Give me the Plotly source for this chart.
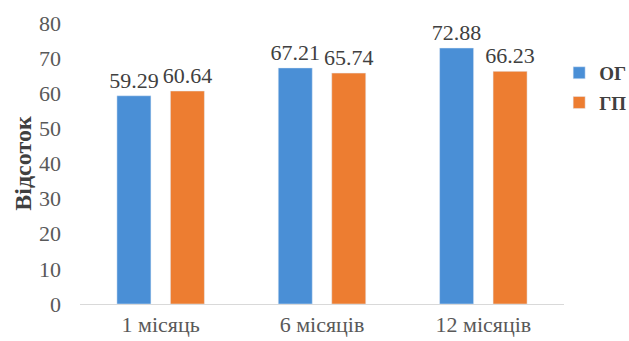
import plotly.graph_objects as go

categories = ["1 місяць", "6 місяців", "12 місяців"]
og_values = [59.29, 67.21, 72.88]
gp_values = [60.64, 65.74, 66.23]
series_names = ["ОГ", "ГП"]
y_ticks = [0, 10, 20, 30, 40, 50, 60, 70, 80]

blue = "#4a8fd6"
orange = "#ed7d31"
font_fam = "Times New Roman"

fig = go.Figure()
for name, vals, col in [(series_names[0], og_values, blue), (series_names[1], gp_values, orange)]:
    fig.add_bar(x=categories, y=vals, name=name, marker_color=col, legendgroup=name,
                text=[f"{v:.2f}" for v in vals], textposition="outside",
                constraintext="none",
                textfont=dict(size=22, color="#404040", family=font_fam), cliponaxis=False)

fig.update_layout(
    width=629, height=341,
    margin=dict(l=80, r=65, t=23, b=37, autoexpand=False),
    paper_bgcolor="white", plot_bgcolor="white",
    barmode="group", bargap=0.337, bargroupgap=0.364,
    font=dict(family=font_fam, color="#595959", size=22),
    showlegend=True,
    legend=dict(x=0.99, y=0.89, xanchor="left", yanchor="top",
                font=dict(size=19, color="#404040", family=font_fam, weight="bold"),
                itemwidth=30, tracegroupgap=2, bgcolor="rgba(0,0,0,0)"),
)
fig.update_xaxes(showline=True, linecolor="#d9d9d9", linewidth=1, ticks="",
                 ticklabelstandoff=1,
                 tickfont=dict(size=22, color="#595959", family=font_fam))
fig.update_yaxes(range=[0, 80], tickvals=y_ticks, showgrid=False, zeroline=False,
                 showline=False, ticks="", ticklabelstandoff=18,
                 tickfont=dict(size=22, color="#595959", family=font_fam),
                 title=dict(text="Відсоток", font=dict(size=24, color="#404040", family=font_fam, weight="bold"), standoff=0))

fig.write_html("out.html")
